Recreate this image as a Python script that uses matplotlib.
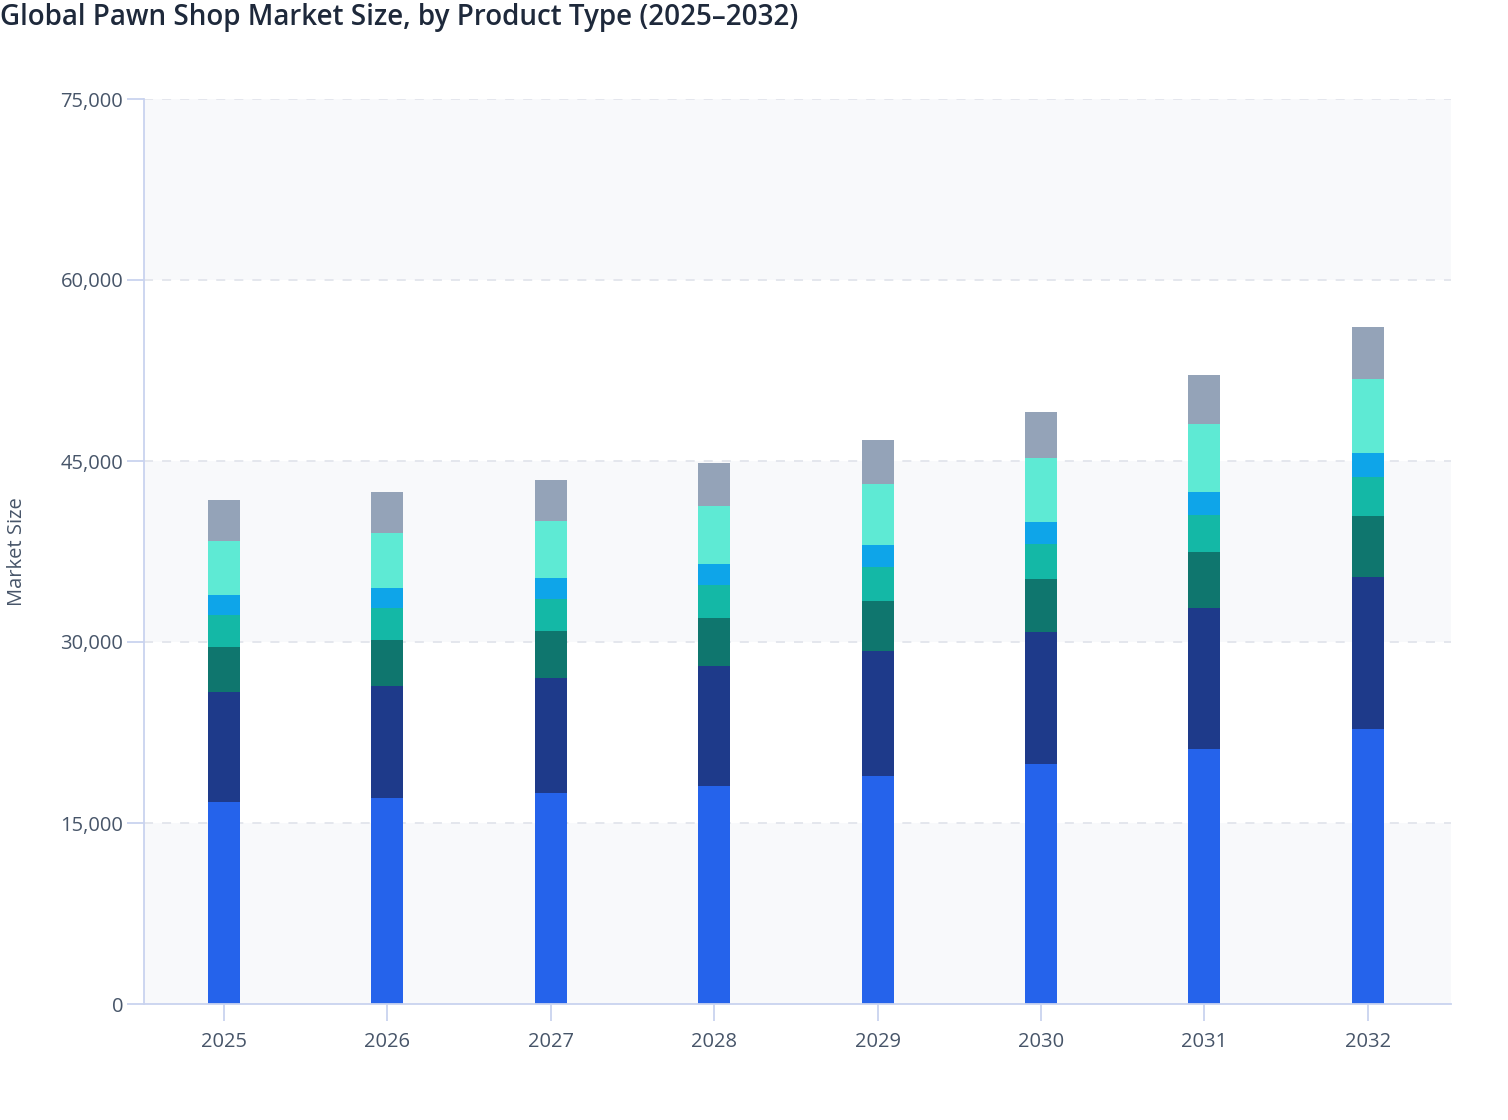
import numpy as np
import matplotlib.pyplot as plt
from matplotlib.ticker import FuncFormatter

plt.rcParams['font.family'] = ['Open Sans', 'DejaVu Sans']

years = ['2025', '2026', '2027', '2028', '2029', '2030', '2031', '2032']

# stacked segments, bottom to top
series_names = ['Jewelry', 'Electronics', 'Luxury Goods', 'Tools',
                'Musical Instruments', 'Firearms', 'Others']
jewelry = [16700, 17040, 17460, 18070, 18870, 19860, 21160, 22790]
electronics = [9170, 9340, 9580, 9940, 10380, 10990, 11680, 12620]
luxury = [3730, 3810, 3900, 4000, 4170, 4340, 4640, 5010]
tools = [2600, 2600, 2630, 2680, 2770, 2900, 3020, 3230]
music = [1680, 1670, 1740, 1770, 1820, 1850, 1930, 2010]
firearms = [4530, 4590, 4700, 4810, 5060, 5280, 5640, 6110]
others = [3340, 3370, 3420, 3540, 3670, 3840, 4060, 4310]

series = [jewelry, electronics, luxury, tools, music, firearms, others]
colors = ['#2563eb', '#1e3a8a', '#0f766e', '#14b8a6', '#0ea5e9', '#5eead4', '#94a3b8']

fig = plt.figure(figsize=(15.08, 11.2), dpi=100)
ax = fig.add_axes([144/1508, 1 - 1004/1120, (1451-144)/1508, (1004-99)/1120])
ax.set_facecolor('white')

x = np.arange(len(years))
ax.set_xlim(-0.49, len(years) - 0.49)
ax.set_ylim(0, 75000)

# alternating background bands
for i, lo in enumerate(range(0, 75000, 15000)):
    if i % 2 == 0:
        ax.axhspan(lo, lo + 15000, color='#f8f9fb', zorder=0, lw=0)

for yv in range(15000, 75001, 15000):
    ax.axhline(yv, color='#e2e5ec', lw=1.3, ls=(0, (5, 5)), zorder=1)

bottom = np.zeros(len(years))
for name, vals, c in zip(series_names, series, colors):
    ax.bar(x, vals, 0.196, bottom=bottom, color=c, label=name, zorder=2, lw=0)
    bottom += np.array(vals)

ax.set_xticks(x)
ax.set_xticklabels(years)
ax.set_yticks(range(0, 75001, 15000))
ax.yaxis.set_major_formatter(FuncFormatter(lambda v, p: f'{int(v):,}'))

for s in ['top', 'right']:
    ax.spines[s].set_visible(False)
for s in ['left', 'bottom']:
    ax.spines[s].set_color('#c9d3ef')
    ax.spines[s].set_linewidth(1.3)

ax.tick_params(axis='both', colors='#c9d3ef', length=12, width=1.3,
               labelcolor='#475569', labelsize=14.5)
ax.tick_params(axis='y', pad=3)
ax.tick_params(axis='x', pad=8)

ax.set_ylabel('Market Size', color='#475569', fontsize=14.5, labelpad=24)

fig.text(0.0, 0.997, 'Global Pawn Shop Market Size, by Product Type (2025\u20132032)',
         fontsize=20, fontweight=600, color='#1e293b', va='top', ha='left')

fig.savefig('out.png', dpi=100)
